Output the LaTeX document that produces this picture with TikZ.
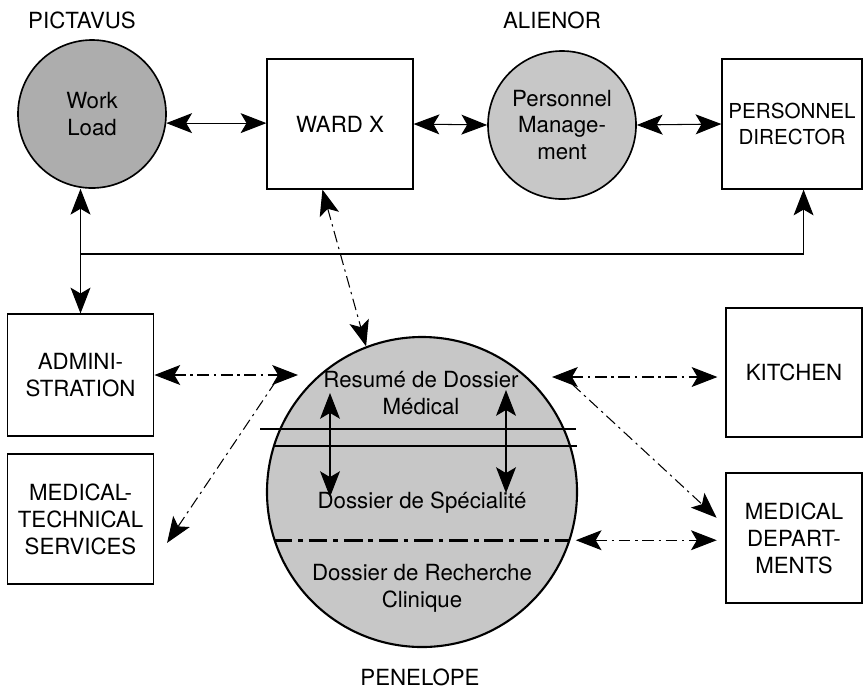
\documentclass[tikz,border=0pt]{standalone}
\usepackage{fontspec}
\setmainfont{TeX Gyre Heros}
\usetikzlibrary{arrows.meta}
\definecolor{loadgray}{gray}{0.68}
\definecolor{filegray}{gray}{0.78}

\begin{document}
\begin{tikzpicture}[>={Stealth[length=11pt, width=8.5pt, inset=2.5pt]}, x=0.015cm, y=-0.015cm, font=\fontsize{9.5}{11.5}\selectfont]
		\tikzstyle{box} = [draw, rectangle, line width=0.5pt, align=center, inner sep=0pt, minimum width=2.19cm, minimum height=1.95cm]
		\tikzstyle{file} = [draw, circle, line width=0.7pt, align=center, inner sep=0pt, minimum size=2.22cm]
		\tikzstyle{flow} = [<->, line width=0.45pt]
		\tikzstyle{dashdot} = [line width=0.45pt, dash pattern=on 5pt off 2pt on 1pt off 2pt]

		\useasboundingbox (0,0) rectangle (864,687);

		\begin{scope}
		\path
		node[file, fill=loadgray] (wl) at (92,114) {Work\\Load}
		node[box] (ward) at (340,124) {WARD X}
		node[file, fill=filegray] (pm) at (562,125) {Personnel\\Manage-\\ment}
		node[box, minimum width=2.1cm, font=\fontsize{8.8}{11.5}\selectfont] (pd) at (792,124) {PERSONNEL\\DIRECTOR}
		node (pictavus) at (82,20) {PICTAVUS}
		node (alienor) at (552,20) {ALIENOR}

		node[box, minimum width=2.2cm, minimum height=1.83cm] (adm) at (80.5,375) {ADMINI-\\STRATION}
		node[box, minimum width=2.2cm] (mts) at (80.5,519) {MEDICAL-\\TECHNICAL\\SERVICES}
		node[box, minimum width=2.04cm, minimum height=1.935cm] (kit) at (794,372.5) {KITCHEN}
		node[box, minimum width=2.04cm] (md) at (794,538) {MEDICAL\\DEPART-\\MENTS}

		node[file, fill=filegray, line width=0.9pt, minimum size=4.65cm] (pen) at (422,492) {}
		node (penelope) at (420,677) {PENELOPE};

		% layers of the patient file
		\draw[line width=0.45pt] (260,429) -- (576,429);
		\draw[line width=0.45pt] (275,446) -- (577,446);
		\draw[line width=1.1pt, dash pattern=on 8pt off 2.5pt on 2pt off 2.5pt] (pen.-162) -- (pen.-18);

		\path
		node[align=center] (resume) at (421,393) {Resumé de Dossier\\Médical}
		node (spec) at (422,503) {Dossier de Spécialité}
		node[align=center] (rech) at (422,588) {Dossier de Recherche\\Clinique};

		\coordinate (resL) at (330,393);
		\coordinate (specL) at (330,497);
		\coordinate (resR) at (506,390);
		\coordinate (specR) at (506,493);
		\coordinate (junc) at (adm.north |- 0,254);
		\coordinate (penL) at (298,377);
		\coordinate (penLs) at (276,381);
		\coordinate (penR) at (552,377);
		\coordinate (penRs) at (572,384);

		\path
		(wl.-7) edge[flow] (wl.-7 -| ward.west)
		(ward.east) edge[flow] (pm.west)
		(pm.east) edge[flow] (pd.west)
		(wl.south -| adm.north) edge[flow] (adm.north)
		(junc) edge[->, line width=0.45pt, to path={-| (\tikztotarget)}] (pd.-80)
		(resL) edge[flow] (specL)
		(resR) edge[flow] (specR)

		(ward.-105) edge[flow, dashdot] (pen.111)
		(adm.east) edge[flow, dashdot] (adm.east -| penL)
		(penLs) edge[->, dashdot, shorten >=3.4mm] (mts.-30)
		(penR) edge[flow, dashdot, shorten >=1.2mm] (penR -| kit.west)
		(penRs) edge[->, dashdot, shorten >=1.8mm] (md.170)
		(pen.-18) edge[flow, dashdot, shorten <=0.8mm, shorten >=1.3mm] (pen.-18 -| md.west)
		;
		\end{scope}
\end{tikzpicture}
\end{document}
